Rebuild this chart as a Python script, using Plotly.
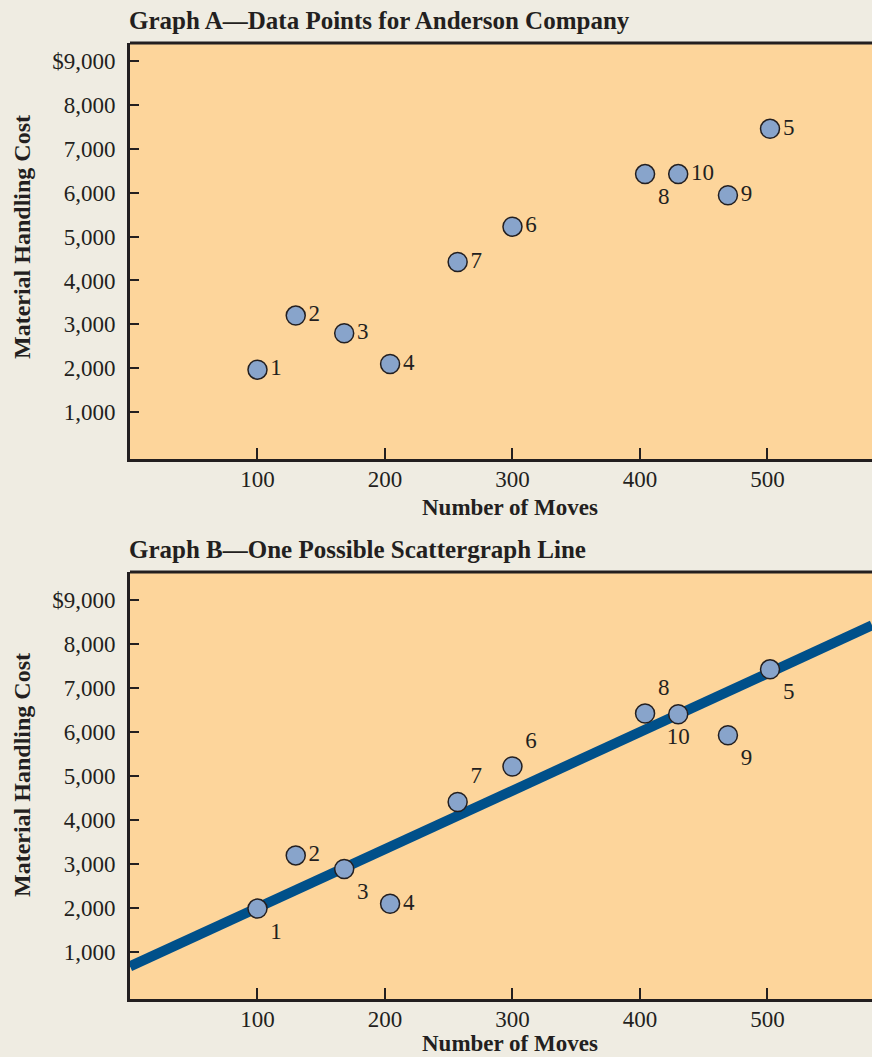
import plotly.graph_objects as go

# Anderson Company data
point_ids = ["1", "2", "3", "4", "5", "6", "7", "8", "9", "10"]
moves_a = [100, 130, 168, 204, 502, 300, 257, 404, 469, 430]
cost_a = [1970, 3200, 2800, 2100, 7450, 5225, 4420, 6420, 5940, 6420]
moves_b = [100, 130, 168, 204, 502, 300, 257, 404, 469, 430]
cost_b = [1990, 3200, 2890, 2100, 7430, 5220, 4415, 6425, 5930, 6410]
line_x = [0, 582]
line_y = [677, 8430]

ytick_vals = [1000, 2000, 3000, 4000, 5000, 6000, 7000, 8000, 9000]
ytick_text = ["1,000", "2,000", "3,000", "4,000", "5,000", "6,000", "7,000", "8,000", "$9,000"]
xtick_vals = [100, 200, 300, 400, 500]

pos_a = ["middle right"] * 7 + ["bottom right", "middle right", "middle right"]
pos_b = ["bottom right", "middle right", "bottom right", "middle right", "bottom right",
         "top right", "top right", "top right", "bottom right", "bottom center"]

FONT = "Liberation Serif"
INK = "#231f20"
marker = dict(size=19, color="#88a4cb", line=dict(color=INK, width=1.5))

fig = go.Figure()
fig.add_trace(go.Scatter(x=moves_a, y=cost_a, mode="markers+text", text=point_ids,
                         textposition=pos_a, marker=marker,
                         textfont=dict(family=FONT, size=23, color=INK),
                         xaxis="x", yaxis="y", showlegend=False))
fig.add_trace(go.Scatter(x=line_x, y=line_y, mode="lines",
                         line=dict(color="#00508a", width=10),
                         xaxis="x2", yaxis="y2", showlegend=False))
fig.add_trace(go.Scatter(x=moves_b, y=cost_b, mode="markers+text", text=point_ids,
                         textposition=pos_b, marker=marker,
                         textfont=dict(family=FONT, size=23, color=INK),
                         xaxis="x2", yaxis="y2", showlegend=False))

H = 1057
axis_common = dict(showgrid=False, zeroline=False, showline=True, linecolor=INK, linewidth=3,
                   ticks="inside", tickcolor=INK, tickwidth=2,
                   tickfont=dict(family=FONT, size=23, color=INK))

fig.update_layout(
    width=872, height=H,
    margin=dict(l=130, r=0, t=0, b=0),
    paper_bgcolor="#efece2", plot_bgcolor="#fdd59b",
    xaxis=dict(domain=[0, 1], anchor="y", range=[0, 582], tickvals=xtick_vals,
               ticklen=11, ticklabelstandoff=-3, **axis_common),
    yaxis=dict(domain=[1 - 459 / H, 1 - 43 / H], anchor="x", range=[-63, 9404],
               tickvals=ytick_vals, ticktext=ytick_text, ticklen=9,
               ticklabelstandoff=7, **axis_common),
    xaxis2=dict(domain=[0, 1], anchor="y2", range=[0, 582], tickvals=xtick_vals,
                ticklen=11, ticklabelstandoff=-3, **axis_common),
    yaxis2=dict(domain=[1 - 999 / H, 1 - 572 / H], anchor="x2", range=[-65, 9643],
                tickvals=ytick_vals, ticktext=ytick_text, ticklen=9,
                ticklabelstandoff=7, **axis_common),
)

# top border of each plot box
for ref in ["y", "y2"]:
    fig.add_shape(type="line", xref="paper", yref=ref + " domain", x0=0, x1=1, y0=1, y1=1,
                  line=dict(color=INK, width=3))

titles = [("Graph A—Data Points for Anderson Company", 20),
          ("Graph B—One Possible Scattergraph Line", 549)]
for txt, ypx in titles:
    fig.add_annotation(text="<b>" + txt + "</b>", xref="paper", yref="paper",
                       x=-0.004, y=1 - ypx / H, xanchor="left", yanchor="middle", showarrow=False,
                       font=dict(family=FONT, size=25, color=INK))

for ypx in [237, 775]:
    fig.add_annotation(text="<b>Material Handling Cost</b>", xref="paper", yref="paper",
                       x=(22 - 130) / 742, y=1 - ypx / H, textangle=-90, showarrow=False,
                       xanchor="center", yanchor="middle",
                       font=dict(family=FONT, size=24, color=INK))
for ypx in [507, 1043]:
    fig.add_annotation(text="<b>Number of Moves</b>", xref="paper", yref="paper",
                       x=(510 - 130) / 742, y=1 - ypx / H, showarrow=False,
                       xanchor="center", yanchor="middle",
                       font=dict(family=FONT, size=23, color=INK))

fig.write_html("out.html", config={"displayModeBar": False},
               post_script="document.body.style.margin='0';document.body.style.overflow='hidden';")
